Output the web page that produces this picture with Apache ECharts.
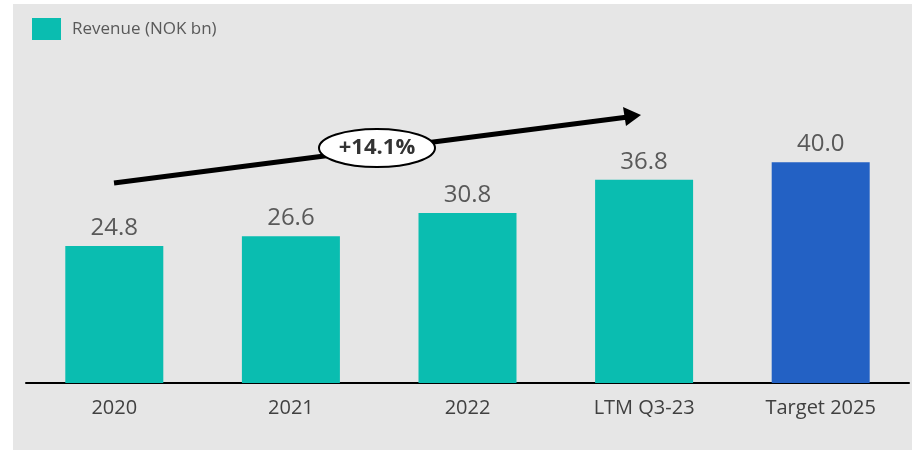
<!DOCTYPE html>
<html><head><meta charset="utf-8">
<script src="https://cdn.jsdelivr.net/npm/echarts@6/dist/echarts.min.js"></script>
<style>html,body{margin:0;padding:0;background:#fff}#c{width:917px;height:450px}</style>
</head><body><div id="c"></div>
<script>
const categories = ['2020', '2021', '2022', 'LTM Q3-23', 'Target 2025'];
const revenue = [24.8, 26.6, 30.8, 36.8, 40.0];
const cagrLabel = '+14.1%';
const seriesName = 'Revenue (NOK bn)';

const FONT = '"Open Sans", "Noto Sans", sans-serif';
const chart = echarts.init(document.getElementById('c'), null, {renderer: 'canvas'});
chart.setOption({
  backgroundColor: '#ffffff',
  animation: false,
  legend: {
    left: 32, top: 18, padding: 0, itemWidth: 29, itemHeight: 22, itemGap: 10,
    icon: 'rect',
    textStyle: {fontFamily: FONT, fontSize: 17, color: '#595959', padding: [0, 0, 0, 6]},
    data: [seriesName]
  },
  grid: {left: 26, right: 8, top: 107, bottom: 67},
  xAxis: {
    type: 'category', data: categories,
    axisLine: {lineStyle: {color: '#000', width: 2}},
    axisTick: {show: false},
    axisLabel: {fontFamily: FONT, fontSize: 20, color: '#404040', margin: 15}
  },
  yAxis: {type: 'value', min: 0, max: 50, show: false, splitLine: {show: false}},
  graphic: [
    {type: 'rect', z: -10, silent: true, shape: {x: 13, y: 4, width: 899, height: 446}, style: {fill: '#e6e6e6'}},
    {type: 'line', z: 100, shape: {x1: 114, y1: 183, x2: 628, y2: 117}, style: {stroke: '#000', lineWidth: 5}},
    {type: 'polygon', z: 100, shape: {points: [[641, 115], [623, 107], [626, 126]]}, style: {fill: '#000'}},
    {type: 'ellipse', z: 101, shape: {cx: 377, cy: 148, rx: 58, ry: 19}, style: {fill: '#fff', stroke: '#000', lineWidth: 2}},
    {type: 'text', z: 102, x: 377, y: 148, style: {text: cagrLabel, fontFamily: FONT, fontSize: 22, fontWeight: 'bold', fill: '#333', align: 'center', verticalAlign: 'middle'}}
  ],
  series: [{
    name: seriesName, type: 'bar', barWidth: 98,
    itemStyle: {color: '#0ABDB0'},
    data: revenue.map((v, i) => i === revenue.length - 1 ? {value: v, itemStyle: {color: '#2361C4'}} : v),
    label: {show: true, position: 'top', distance: 6, fontFamily: FONT, fontSize: 24, color: '#595959',
      formatter: p => p.value.toFixed(1)}
  }]
});
</script></body></html>
